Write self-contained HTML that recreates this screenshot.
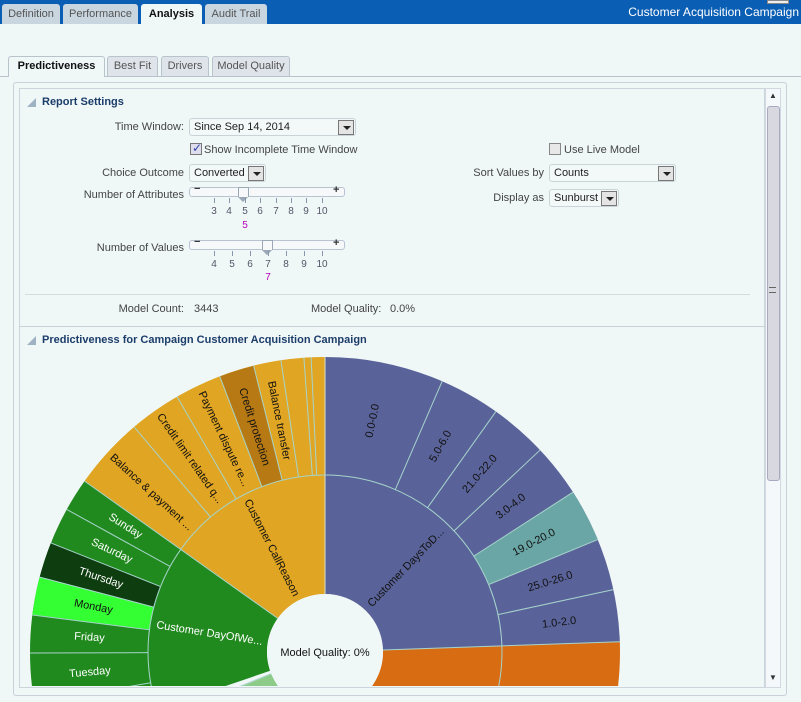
<!DOCTYPE html>
<html><head><meta charset="utf-8"><style>
*{box-sizing:border-box;margin:0;padding:0}
html,body{overflow:hidden}
body{width:801px;height:702px;background:#eff7f7;font-family:"Liberation Sans",Arial,sans-serif;font-size:11px;color:#333;position:relative}
.a{position:absolute;white-space:nowrap}
.tab{position:absolute;top:4px;height:20px;background:#c9d6df;border-radius:3px 3px 0 0;color:#555;font-size:11px;line-height:20px;text-align:center}
.stab{position:absolute;top:56px;height:20px;background:#dfe4ea;border:1px solid #b8c4cc;border-bottom:none;border-radius:3px 3px 0 0;color:#555;line-height:19px;text-align:center}
.lbl{position:absolute;right:617px;white-space:nowrap;color:#444}
.sel{position:absolute;height:18px;border:1px solid #c8d4d8;border-radius:3px;background:#f3f8f8;line-height:16px;padding-left:4px;color:#222}
.dd{position:absolute;right:1px;top:1px;width:16px;height:15px;border:1px solid #777;background:#e4e4e4}
.dd:after{content:"";position:absolute;left:4px;top:5px;border-left:4px solid transparent;border-right:4px solid transparent;border-top:4px solid #222}
.cb{position:absolute;width:12px;height:12px;border:1px solid #888;background:#e8e8e8}
.sl{position:absolute;height:10px;border:1px solid #b8c4d4;border-radius:3px;background:#f6f8fa}
.tk{position:absolute;width:1px;height:5px;background:#8896b0}
.tl{position:absolute;font-size:10px;color:#556;width:14px;text-align:center}
.hd{position:absolute;font-weight:bold;color:#1c3d6a;font-size:11px}
.tri{position:absolute;width:0;height:0;border-left:9px solid transparent;border-bottom:9px solid #9fb2c4}
.th{position:absolute;width:11px;height:10px;border:1px solid #9aa8b8;border-bottom:none;background:#f6f8fa}
.th:after{content:"";position:absolute;left:-1px;top:9px;border-left:5px solid transparent;border-right:5px solid transparent;border-top:5px solid #9aa8b8}
</style></head><body>
<div class="a" style="left:0;top:0;width:801px;height:24px;background:#0a5fb4"></div>
<div class="tab" style="left:2px;width:58px">Definition</div>
<div class="tab" style="left:63px;width:75px">Performance</div>
<div class="tab" style="left:141px;width:61px;background:#f0f7f7;color:#111;font-weight:bold">Analysis</div>
<div class="tab" style="left:205px;width:62px">Audit Trail</div>
<div class="a" style="right:2px;top:5px;color:#fff;font-size:12px">Customer Acquisition Campaign</div>
<div class="a" style="left:767px;top:0;width:22px;height:4px;background:#eee;border:1px solid #888"></div>

<div class="a" style="left:0;top:76px;width:801px;height:1px;background:#b8c4cc"></div>
<div class="stab" style="left:8px;width:97px;background:#eff7f7;color:#111;font-weight:bold;height:21px">Predictiveness</div>
<div class="stab" style="left:107px;width:51px">Best Fit</div>
<div class="stab" style="left:161px;width:48px">Drivers</div>
<div class="stab" style="left:212px;width:78px">Model Quality</div>

<div class="a" style="left:13px;top:82px;width:774px;height:614px;border:1px solid #c8d0d8;border-radius:3px"></div>
<div class="a" style="left:19px;top:88px;width:746px;height:600px;border:1px solid #ccd4dc"></div>
<div class="a" style="left:765px;top:88px;width:16px;height:600px;background:#f4f8fa;border:1px solid #d0d8e0"></div>
<div class="a" style="left:767px;top:106px;width:13px;height:375px;background:#d8d8e0;border:1px solid #a8a8c0;border-radius:3px"></div>
<div class="a" style="left:769px;top:91px;font-size:8px;color:#333">▲</div>
<div class="a" style="left:769px;top:673px;font-size:8px;color:#333">▼</div>
<div class="a" style="left:769px;top:287px;width:7px;height:6px;border-top:1px solid #666;border-bottom:1px solid #666"></div>

<div class="tri" style="left:27px;top:98px"></div>
<div class="hd" style="left:42px;top:96px">Report Settings</div>

<div class="lbl" style="top:121px">Time Window:</div>
<div class="sel" style="left:189px;top:118px;width:167px">Since Sep 14, 2014<div class="dd"></div></div>
<div class="cb" style="left:190px;top:143px;background:#dde;border-color:#777"><span style="position:absolute;left:1px;top:-3px;color:#3344aa;font-size:12px">✓</span></div>
<div class="a" style="left:204px;top:144px;color:#444">Show Incomplete Time Window</div>
<div class="lbl" style="top:167px">Choice Outcome</div>
<div class="sel" style="left:189px;top:164px;width:77px">Converted<div class="dd"></div></div>
<div class="lbl" style="top:189px">Number of Attributes</div>
<div class="sl" style="left:189px;top:187px;width:156px"></div>
<div class="a" style="left:194px;top:183px;font-weight:bold;font-size:11px">−</div>
<div class="a" style="left:333px;top:184px;font-weight:bold;font-size:11px">+</div>
<div class="th" style="left:238px;top:187px"></div>
<div class="th" style="left:262px;top:240px"></div>
<div class="tk" style="left:214px;top:198px"></div><div class="tk" style="left:229px;top:198px"></div><div class="tk" style="left:245px;top:198px"></div><div class="tk" style="left:260px;top:198px"></div><div class="tk" style="left:276px;top:198px"></div><div class="tk" style="left:291px;top:198px"></div><div class="tk" style="left:306px;top:198px"></div><div class="tk" style="left:322px;top:198px"></div>
<div class="tl" style="left:207px;top:206px">3</div><div class="tl" style="left:222px;top:206px">4</div><div class="tl" style="left:238px;top:206px">5</div><div class="tl" style="left:253px;top:206px">6</div><div class="tl" style="left:269px;top:206px">7</div><div class="tl" style="left:284px;top:206px">8</div><div class="tl" style="left:299px;top:206px">9</div><div class="tl" style="left:315px;top:206px">10</div>
<div class="tl" style="left:238px;top:220px;color:#b0b">5</div>
<div class="lbl" style="top:242px">Number of Values</div>
<div class="sl" style="left:189px;top:240px;width:156px"></div>
<div class="a" style="left:194px;top:236px;font-weight:bold;font-size:11px">−</div>
<div class="a" style="left:333px;top:237px;font-weight:bold;font-size:11px">+</div>
<div class="th" style="left:262px;top:240px"></div>
<div class="tk" style="left:214px;top:251px"></div><div class="tk" style="left:232px;top:251px"></div><div class="tk" style="left:250px;top:251px"></div><div class="tk" style="left:268px;top:251px"></div><div class="tk" style="left:286px;top:251px"></div><div class="tk" style="left:304px;top:251px"></div><div class="tk" style="left:322px;top:251px"></div>
<div class="tl" style="left:207px;top:259px">4</div><div class="tl" style="left:225px;top:259px">5</div><div class="tl" style="left:243px;top:259px">6</div><div class="tl" style="left:261px;top:259px">7</div><div class="tl" style="left:279px;top:259px">8</div><div class="tl" style="left:297px;top:259px">9</div><div class="tl" style="left:315px;top:259px">10</div>
<div class="tl" style="left:261px;top:272px;color:#b0b">7</div>

<div class="cb" style="left:549px;top:143px"></div>
<div class="a" style="left:564px;top:144px;color:#444">Use Live Model</div>
<div class="a" style="right:257px;top:167px;color:#444">Sort Values by</div>
<div class="sel" style="left:549px;top:164px;width:127px">Counts<div class="dd"></div></div>
<div class="a" style="right:257px;top:192px;color:#444">Display as</div>
<div class="sel" style="left:549px;top:189px;width:70px">Sunburst<div class="dd"></div></div>

<div class="a" style="left:25px;top:294px;width:725px;height:1px;background:#d4dcdc"></div>
<div class="lbl" style="top:303px">Model Count:</div>
<div class="a" style="left:194px;top:303px;color:#444">3443</div>
<div class="a" style="left:311px;top:303px;color:#444">Model Quality:</div>
<div class="a" style="left:390px;top:303px;color:#444">0.0%</div>
<div class="a" style="left:20px;top:326px;width:745px;height:1px;background:#c8d0d8"></div>
<div class="tri" style="left:27px;top:336px"></div>
<div class="hd" style="left:42px;top:334px">Predictiveness for Campaign Customer Acquisition Campaign</div>

<svg class="a" style="left:30px;top:350px" width="734" height="336" viewBox="30 350 734 336">
<g transform="translate(325,652) rotate(-90)" fill="none">
<circle r="117.5" stroke="#5a6399" stroke-width="119" stroke-dasharray="180.5 738.27" stroke-dashoffset="0"/>
<circle r="117.5" stroke="#d86c12" stroke-width="119" stroke-dasharray="127.1 738.27" stroke-dashoffset="-180.5"/>
<circle r="117.5" stroke="#8ccc88" stroke-width="119" stroke-dasharray="200 738.27" stroke-dashoffset="-307.6"/>
<circle r="117.5" stroke="#218a1e" stroke-width="119" stroke-dasharray="112 738.27" stroke-dashoffset="-514.7"/>
<circle r="117.5" stroke="#e0a522" stroke-width="119" stroke-dasharray="112 738.27" stroke-dashoffset="-626.3"/>
<circle r="236" stroke="#5a6399" stroke-width="118" stroke-dasharray="362.5 1482.83" stroke-dashoffset="0"/>
<circle r="236" stroke="#6ba6a6" stroke-width="118" stroke-dasharray="42.8 1482.83" stroke-dashoffset="-235.6"/>
<circle r="236" stroke="#d86c12" stroke-width="118" stroke-dasharray="300 1482.83" stroke-dashoffset="-362.5"/>
<circle r="236" stroke="#218a1e" stroke-width="118" stroke-dasharray="608 1482.83" stroke-dashoffset="-650"/>
<circle r="236" stroke="#0e3e10" stroke-width="118" stroke-dasharray="28.8 1482.83" stroke-dashoffset="-1172.8"/>
<circle r="236" stroke="#33ff33" stroke-width="118" stroke-dasharray="30.9 1482.83" stroke-dashoffset="-1141.9"/>
<circle r="236" stroke="#e0a522" stroke-width="118" stroke-dasharray="225.6 1482.83" stroke-dashoffset="-1257.9"/>
<circle r="236" stroke="#b67914" stroke-width="118" stroke-dasharray="28.4 1482.83" stroke-dashoffset="-1396.7"/>
</g>
<g transform="translate(325,652)" stroke="#a6d4cc" stroke-width="1">
<line y1="-58" y2="-295" stroke="#d8e4c8"/>
<line y1="-58" y2="-295" transform="rotate(-54.6)"/>
<line y1="-58" y2="-295" transform="rotate(88)"/>
<line y1="-58" y2="-177" transform="rotate(-112)"/>
<line y1="-58" y2="-177" transform="rotate(150)"/>
<circle r="177" fill="none"/>
<g>
<line y1="-177" y2="-295" transform="rotate(23.4)"/><line y1="-177" y2="-295" transform="rotate(35.4)"/><line y1="-177" y2="-295" transform="rotate(46.8)"/><line y1="-177" y2="-295" transform="rotate(57.2)"/><line y1="-177" y2="-295" transform="rotate(67.6)"/><line y1="-177" y2="-295" transform="rotate(77.8)"/>
<line y1="-177" y2="-295" transform="rotate(-2.7)"/><line y1="-177" y2="-295" transform="rotate(-4.1)"/><line y1="-177" y2="-295" transform="rotate(-8.6)"/><line y1="-177" y2="-295" transform="rotate(-14)"/><line y1="-177" y2="-295" transform="rotate(-20.9)"/><line y1="-177" y2="-295" transform="rotate(-30.1)"/><line y1="-177" y2="-295" transform="rotate(-40.3)"/>
<line y1="-177" y2="-295" transform="rotate(-61.1)"/><line y1="-177" y2="-295" transform="rotate(-68.3)"/><line y1="-177" y2="-295" transform="rotate(-75.3)"/><line y1="-177" y2="-295" transform="rotate(-82.8)"/><line y1="-177" y2="-295" transform="rotate(-90.2)"/><line y1="-177" y2="-295" transform="rotate(-100)"/>
</g>
<circle r="58" fill="#eff7f7" stroke="none"/>
</g>
<g font-family="Liberation Sans, Arial, sans-serif" font-size="11" text-anchor="middle" dominant-baseline="middle">
<g transform="translate(325,652)" fill="#111">
<text transform="rotate(-78.3) translate(236,0)">0.0-0.0</text>
<text transform="rotate(-60.6) translate(236,0)">5.0-6.0</text>
<text transform="rotate(-48.9) translate(236,0)">21.0-22.0</text>
<text transform="rotate(-38) translate(236,0)">3.0-4.0</text>
<text transform="rotate(-27.6) translate(236,0)">19.0-20.0</text>
<text transform="rotate(-17.3) translate(236,0)">25.0-26.0</text>
<text transform="rotate(-7.1) translate(236,0)">1.0-2.0</text>
<text transform="rotate(-46) translate(117,0)">Customer DaysToD...</text>
<text transform="rotate(62.7) translate(-117,0)">Customer CallReason</text>
<text transform="rotate(42.5) translate(-236,0)">Balance &amp; payment ...</text>
<text transform="rotate(55) translate(-236,0)">Credit limit related q...</text>
<text transform="rotate(64.5) translate(-236,0)">Payment dispute re...</text>
<text transform="rotate(72.5) translate(-236,0)">Credit protection</text>
<text transform="rotate(78.7) translate(-236,0)">Balance transfer</text>
</g>
<g transform="translate(325,652)" fill="#fff">
<text transform="rotate(32.2) translate(-236,0)">Sunday</text>
<text transform="rotate(25.3) translate(-236,0)">Saturday</text>
<text transform="rotate(18.2) translate(-236,0)">Thursday</text>
<text fill="#111" transform="rotate(11) translate(-236,0)">Monday</text>
<text transform="rotate(3.5) translate(-236,0)">Friday</text>
<text transform="rotate(-5) translate(-236,0)">Tuesday</text>
<text transform="rotate(9) translate(-117,0)">Customer DayOfWe...</text>
</g>
<text x="325" y="653" fill="#111">Model Quality: 0%</text>
</g>
</svg>
</body></html>
